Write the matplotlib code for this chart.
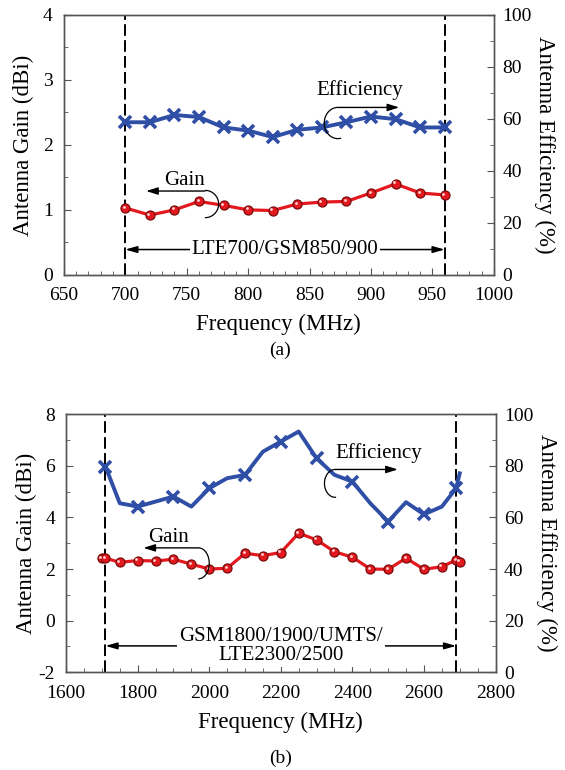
#!/usr/bin/env python3
"""
Ganho e eficiência da antena nas bandas baixa (a) e alta (b).

Gera out.png com os dois painéis empilhados, ganho no eixo esquerdo
e eficiência no eixo direito.
"""

import numpy as np
import matplotlib.pyplot as plt
from matplotlib.patches import Arc
from matplotlib.transforms import offset_copy

plt.rcParams["font.family"] = ["Liberation Serif", "DejaVu Serif"]
plt.rcParams["axes.unicode_minus"] = False

# ---- banda baixa (a) ----
freq_a = [700, 720, 740, 760, 780, 800, 820, 840, 860, 880, 900, 920, 940, 960]
gain_a = [1.03, 0.92, 1.00, 1.13, 1.07, 1.00, 0.99, 1.09, 1.12, 1.13, 1.26, 1.40, 1.26, 1.23]
eff_a = [58.7, 58.7, 61.5, 60.7, 56.7, 55.5, 53.0, 55.8, 56.7, 58.7, 60.9, 59.9, 56.7, 56.7]
band_a = (700, 960)
band_a_label = "LTE700/GSM850/900"
xticks_a = [650, 700, 750, 800, 850, 900, 950, 1000]

# ---- banda alta (b) ----
freq_gain_b = [1700, 1710, 1750, 1800, 1850, 1900, 1950, 2000, 2050, 2100, 2150, 2200,
               2250, 2300, 2350, 2400, 2450, 2500, 2550, 2600, 2650, 2690, 2700]
gain_b = [2.42, 2.42, 2.26, 2.33, 2.31, 2.38, 2.19, 2.00, 2.03, 2.61, 2.52, 2.64,
          3.39, 3.13, 2.67, 2.46, 2.00, 1.99, 2.42, 1.99, 2.09, 2.35, 2.29]
freq_eff_b = [1710, 1750, 1800, 1900, 1950, 2000, 2050, 2100, 2150, 2200, 2250,
              2300, 2350, 2400, 2450, 2500, 2550, 2600, 2650, 2690, 2700]
eff_b = [79.7, 65.5, 64.2, 68.1, 64.2, 71.3, 75.2, 76.5, 85.5, 89.4, 93.3,
         82.9, 76.5, 73.9, 65.5, 58.4, 65.9, 61.2, 64.2, 71.3, 77.1]
eff_b_marks = [1710, 1800, 1900, 2000, 2100, 2200, 2300, 2400, 2500, 2600, 2690]
band_b = (1710, 2690)
band_b_label = "GSM1800/1900/UMTS/\nLTE2300/2500"
xticks_b = [1600, 1800, 2000, 2200, 2400, 2600, 2800]

RED = "#e3191f"
BLUE = "#2f4ea6"
SPINE = "#555555"
TICK_FS = 14
LABEL_FS = 16.5
NOTE_FS = 15


def style_axes(ax, ax2):
    for a in (ax, ax2):
        for s in a.spines.values():
            s.set_color(SPINE)
            s.set_linewidth(1.0)
        a.tick_params(which="both", direction="in", colors=SPINE,
                      labelcolor="black", labelsize=TICK_FS)
        a.tick_params(which="major", length=5, width=0.8)
        a.tick_params(which="minor", length=3, width=0.6)
    ax.tick_params(axis="y", pad=8)
    ax.tick_params(axis="x", pad=9)
    ax2.tick_params(axis="y", pad=6)


def draw_gain(ax, freq, gain):
    ax.plot(freq, gain, color=RED, lw=2.3, zorder=3)
    ax.plot(freq, gain, ls="none", marker="o", ms=6.5, mfc=RED,
            mec="#7a0a0a", mew=0.9, zorder=4)
    # brilho das esferas
    shine = offset_copy(ax.transData, fig=ax.figure, x=-1.0, y=1.0, units="points")
    ax.plot(freq, gain, ls="none", marker="o", ms=2.0, mfc="#ffd6d6",
            mec="none", transform=shine, zorder=5)


def draw_band(ax, band, label, y):
    ax.axvline(band[0], color="black", lw=1.4, dashes=(6, 2.2), zorder=2)
    ax.axvline(band[1], color="black", lw=1.4, dashes=(6, 2.2), zorder=2)
    ax.annotate("", xy=(band[0], y), xytext=(band[1], y),
                arrowprops=dict(arrowstyle="<|-|>,head_length=0.7,head_width=0.2",
                                color="black", lw=1.1, shrinkA=0, shrinkB=0))
    ax.text(sum(band) / 2, y, label, ha="center", va="center", fontsize=NOTE_FS,
            linespacing=0.95, zorder=6,
            bbox=dict(facecolor="white", edgecolor="none", pad=1.5))


def draw_note(ax, text, text_xy, arrow_from, arrow_to, loop_xy, loop_w, loop_h, theta):
    ax.text(*text_xy, text, ha="center", va="center", fontsize=NOTE_FS, zorder=6)
    ax.annotate("", xy=arrow_to, xytext=arrow_from,
                arrowprops=dict(arrowstyle="-|>,head_length=0.7,head_width=0.22",
                                color="black", lw=1.0, shrinkA=0, shrinkB=0), zorder=6)
    ax.add_patch(Arc(loop_xy, loop_w, loop_h, theta1=theta[0], theta2=theta[1],
                     color="black", lw=0.9, zorder=6))


def panel(rect, xlim, xticks, xminor, ylim, yticks, yminor):
    ax = fig.add_axes(rect)
    ax2 = ax.twinx()
    ax.set_xlim(*xlim)
    ax.set_xticks(xticks)
    ax.set_xticks(np.arange(xlim[0], xlim[1] + 1, xminor), minor=True)
    ax.set_ylim(*ylim)
    ax.set_yticks(yticks)
    ax.set_yticks(np.arange(ylim[0], ylim[1] + 0.01, yminor), minor=True)
    ax2.set_ylim(0, 100)
    ax2.set_yticks(range(0, 101, 20))
    ax2.set_yticks(range(0, 101, 10), minor=True)
    style_axes(ax, ax2)
    ax.set_xlabel("Frequency (MHz)", fontsize=LABEL_FS, labelpad=7)
    ax.set_ylabel("Antenna Gain (dBi)", fontsize=LABEL_FS, va="center")
    ax.yaxis.set_label_coords(-0.093, 0.5)
    ax2.set_ylabel("Antenna Efficiency (%)", fontsize=LABEL_FS, rotation=270, va="center")
    ax2.yaxis.set_label_coords(1.118, 0.5)
    return ax, ax2


fig = plt.figure(figsize=(5.65, 7.70), dpi=100)

# (a)
ax, ax2 = panel([0.113, 0.643, 0.761, 0.3377], (650, 1000), xticks_a, 10,
                (0, 4), [0, 1, 2, 3, 4], 0.5)
draw_band(ax, band_a, band_a_label, 0.39)
draw_gain(ax, freq_a, gain_a)
ax2.plot(freq_a, eff_a, color=BLUE, lw=2.8, marker="x", ms=9, mew=2.6, zorder=3)
draw_note(ax, "Gain", (748, 1.45), (765, 1.29), (717, 1.29),
          (765, 1.09), 22, 0.42, (-135, 90))
draw_note(ax2, "Efficiency", (891, 71.2), (873, 64.4), (923, 64.4),
          (873, 58.4), 22, 12.0, (90, 295))
fig.text(0.496, 0.5455, "(a)", ha="center", va="center", fontsize=14)

# (b)
ax, ax2 = panel([0.117, 0.127, 0.760, 0.335], (1600, 2800), xticks_b, 50,
                (-2, 8), [-2, 0, 2, 4, 6, 8], 1)
draw_band(ax, band_b, band_b_label, -0.98)
draw_gain(ax, freq_gain_b, gain_b)
marks = [i for i, f in enumerate(freq_eff_b) if f in eff_b_marks]
ax2.plot(freq_eff_b, eff_b, color=BLUE, lw=2.8, marker="x", ms=9, mew=2.6,
         markevery=marks, zorder=3)
draw_note(ax, "Gain", (1885, 3.22), (1970, 2.82), (1816, 2.82),
          (1970, 2.22), 60, 1.2, (-135, 90))
draw_note(ax2, "Efficiency", (2475, 84.9), (2352, 78.6), (2527, 78.6),
          (2352, 73.2), 60, 10.8, (90, 295))
fig.text(0.496, 0.0156, "(b)", ha="center", va="center", fontsize=14)

fig.savefig("out.png", dpi=100)
